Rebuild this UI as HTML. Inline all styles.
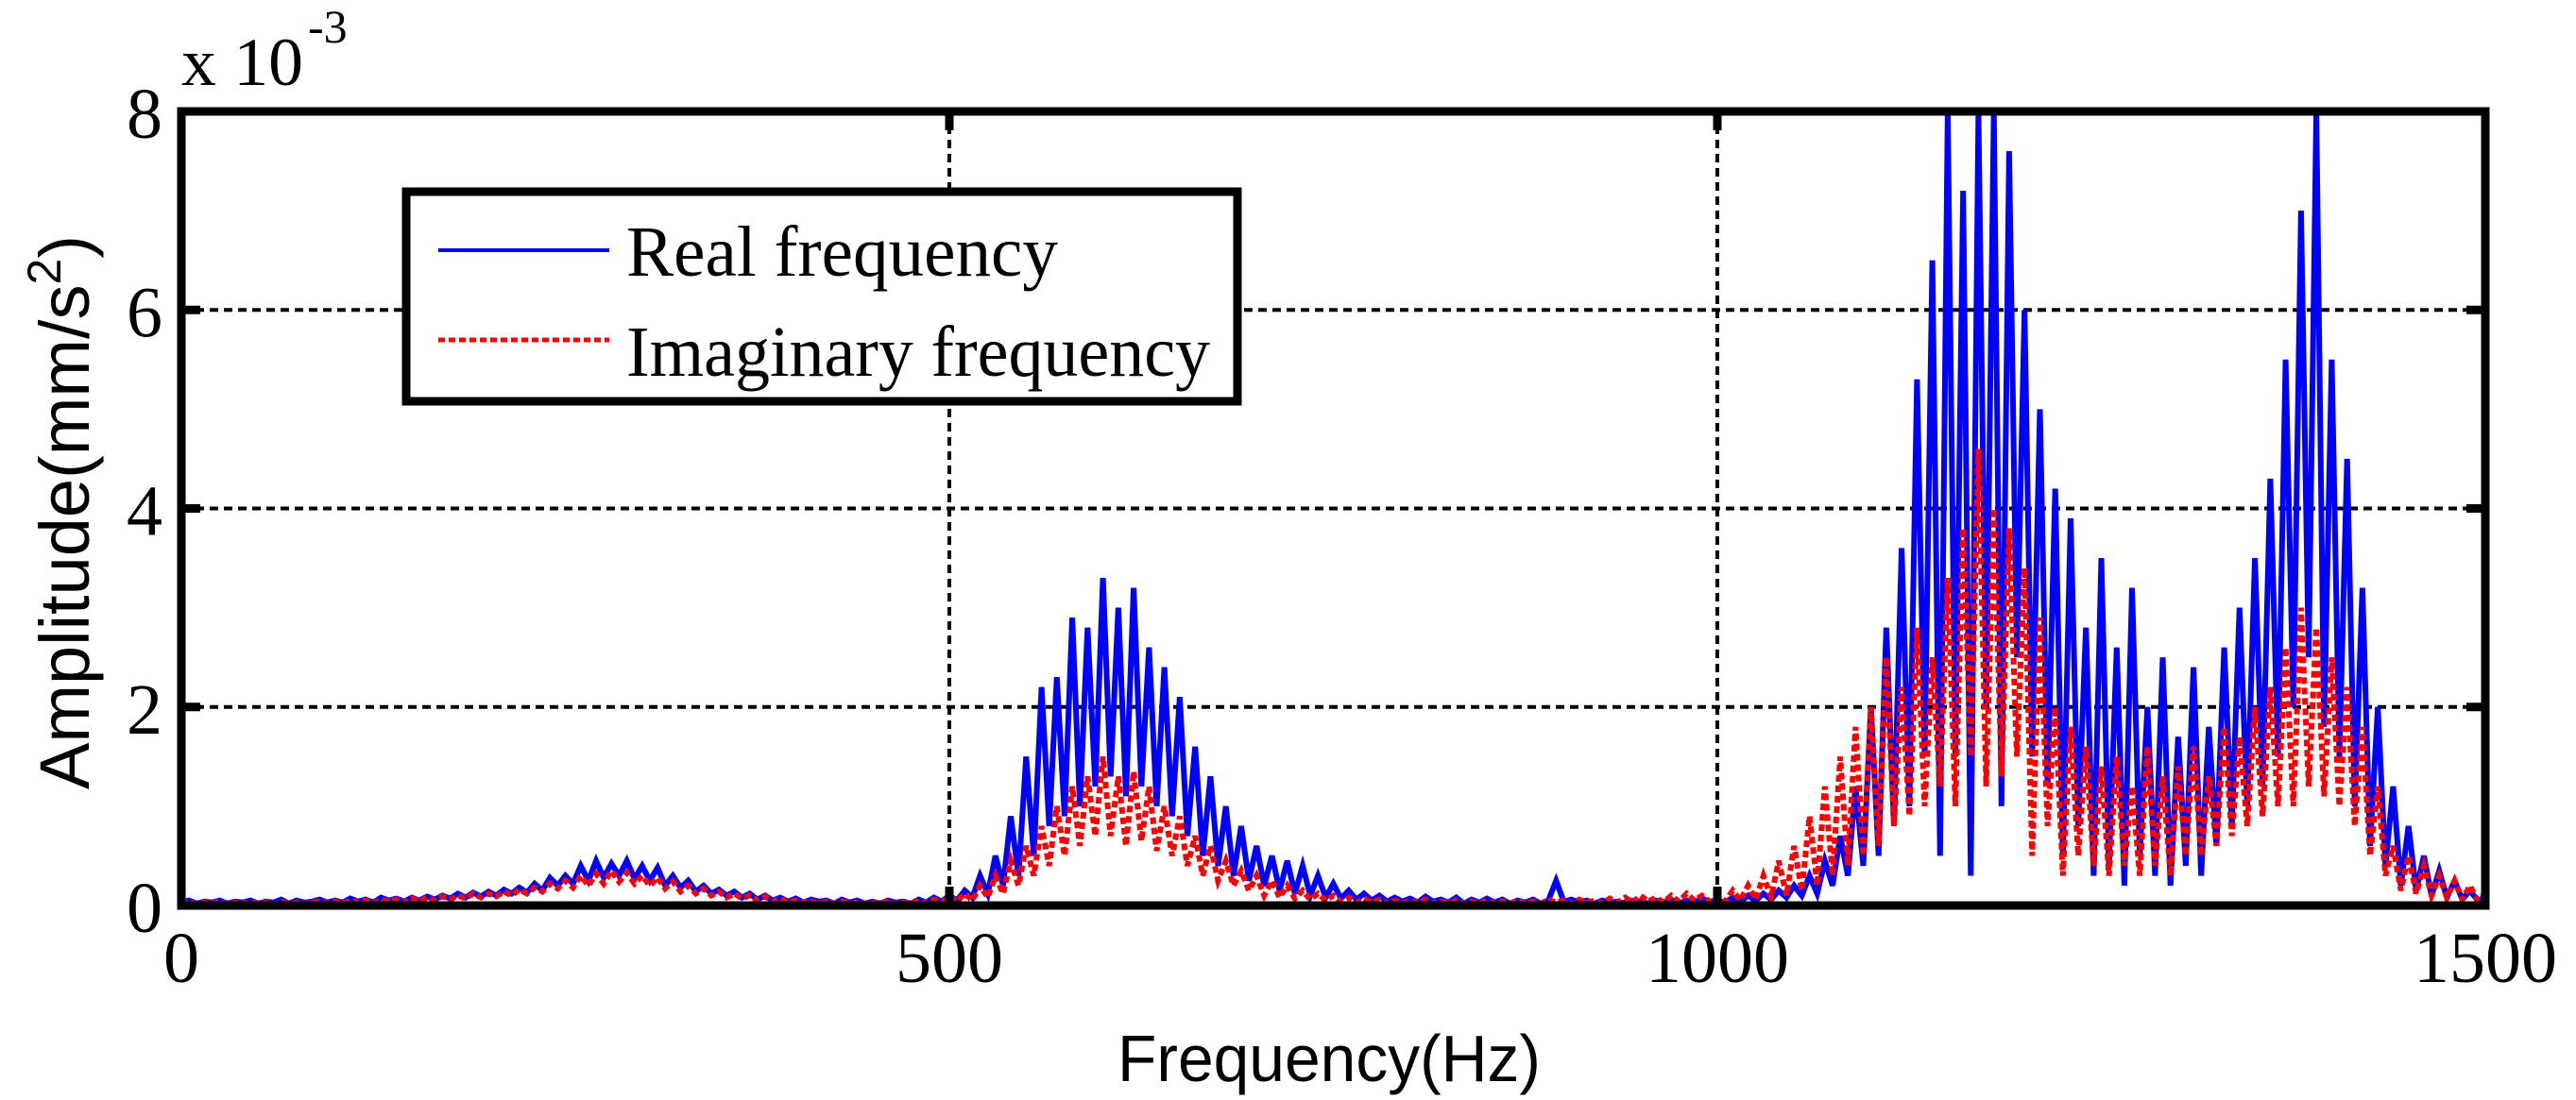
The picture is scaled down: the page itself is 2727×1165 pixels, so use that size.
<!DOCTYPE html>
<html><head><meta charset="utf-8"><style>
html,body{margin:0;padding:0;background:#fff;}
svg{display:block;}
</style></head><body>
<svg id="chart" width="2727" height="1165" viewBox="0 0 2727 1165" xmlns="http://www.w3.org/2000/svg">
<defs><clipPath id="plotclip"><rect x="192" y="118" width="2439" height="841"/></clipPath></defs>
<rect x="0" y="0" width="2727" height="1165" fill="#fff"/>
<g id="grid"></g>
<g id="series" clip-path="url(#plotclip)"></g>
<g id="axes"></g>
<text x="192" y="90" font-family="Liberation Serif, serif" font-size="72" textLength="129" lengthAdjust="spacingAndGlyphs">x 10</text>
<text x="326" y="45" font-family="Liberation Serif, serif" font-size="50">-3</text>
<text transform="translate(94,836) rotate(-90)" font-family="Liberation Sans, sans-serif" font-size="74">Amplitude(mm/s<tspan font-size="50" dy="-30">2</tspan><tspan dy="30">)</tspan></text>
<text x="1183" y="1145" font-family="Liberation Sans, sans-serif" font-size="70" textLength="448" lengthAdjust="spacingAndGlyphs">Frequency(Hz)</text>
<g>
<rect x="430" y="203" width="880" height="222" fill="#fff" stroke="#000" stroke-width="9"/>
<line x1="464" y1="265" x2="645" y2="265" stroke="#0000ff" stroke-width="4"/>
<text x="663" y="292" font-family="Liberation Serif, serif" font-size="76" textLength="457" lengthAdjust="spacingAndGlyphs">Real frequency</text>
<line x1="464" y1="360" x2="645" y2="360" stroke="#ff0000" stroke-width="5" stroke-dasharray="7 4"/>
<text x="663" y="398" font-family="Liberation Serif, serif" font-size="76" textLength="618" lengthAdjust="spacingAndGlyphs">Imaginary frequency</text>
</g>
</svg>
<script>
const xTicks = [0, 500, 1000, 1500];
const yTicks = [0, 2, 4, 6, 8];
const freqStep = 5;
const realValues = [
0.03,0.05,0.02,0.04,0.03,0.05,0.02,0.04,0.03,0.05,
0.02,0.04,0.03,0.06,0.02,0.05,0.03,0.04,0.06,0.03,
0.05,0.03,0.07,0.04,0.06,0.03,0.08,0.05,0.07,0.04,
0.08,0.05,0.09,0.06,0.1,0.07,0.12,0.08,0.13,0.09,
0.14,0.1,0.16,0.12,0.18,0.13,0.22,0.15,0.28,0.2,
0.3,0.22,0.4,0.25,0.45,0.28,0.42,0.3,0.45,0.27,
0.4,0.25,0.38,0.2,0.3,0.18,0.25,0.14,0.2,0.12,
0.16,0.1,0.14,0.08,0.12,0.06,0.1,0.05,0.08,0.04,
0.07,0.03,0.06,0.04,0.05,0.02,0.06,0.03,0.05,0.02,
0.04,0.02,0.05,0.03,0.04,0.02,0.06,0.03,0.08,0.04,
0.1,0.05,0.15,0.08,0.3,0.12,0.5,0.2,0.9,0.3,
1.5,0.5,2.2,0.8,2.3,0.9,2.9,1.0,2.8,1.2,
3.3,1.3,3.0,1.1,3.2,1.2,2.6,1.0,2.4,0.9,
2.1,0.7,1.6,0.5,1.3,0.4,1.0,0.3,0.8,0.25,
0.6,0.2,0.5,0.15,0.45,0.12,0.4,0.1,0.3,0.08,
0.22,0.07,0.15,0.06,0.12,0.05,0.1,0.04,0.08,0.04,
0.07,0.03,0.09,0.04,0.06,0.03,0.08,0.02,0.06,0.03,
0.07,0.03,0.06,0.02,0.05,0.03,0.06,0.02,0.05,0.25,
0.04,0.06,0.03,0.05,0.02,0.05,0.03,0.04,0.02,0.05,
0.04,0.02,0.05,0.03,0.06,0.02,0.05,0.03,0.07,0.04,
0.05,0.03,0.08,0.04,0.1,0.05,0.12,0.06,0.15,0.08,
0.2,0.1,0.3,0.12,0.45,0.2,0.7,0.3,1.2,0.4,
2.0,0.5,2.8,0.8,3.6,1.0,5.3,1.5,6.5,0.5,
8,1.5,7.2,0.3,8,2,8,1.0,7.6,2.5,
6.0,1.5,5.0,1.2,4.2,0.5,3.9,0.8,2.8,0.3,
3.5,0.4,2.6,0.2,3.2,0.5,2.0,0.3,2.5,0.2,
1.7,0.4,2.4,0.3,1.8,0.6,2.6,0.8,3.0,1.0,
3.5,1.2,4.3,1.5,5.5,2.0,7.0,2.5,8,1.8,
5.5,1.5,4.5,1.0,3.2,0.6,2.0,0.4,1.2,0.2,
0.8,0.15,0.5,0.1,0.35,0.08,0.25,0.06,0.15,0.05,
0.08];
const imagValues = [
0.02,0.04,0.01,0.03,0.02,0.04,0.01,0.03,0.02,0.03,
0.02,0.03,0.01,0.04,0.02,0.03,0.02,0.04,0.03,0.02,
0.04,0.02,0.05,0.03,0.05,0.02,0.06,0.04,0.06,0.03,
0.07,0.04,0.08,0.05,0.09,0.06,0.1,0.07,0.12,0.08,
0.12,0.09,0.14,0.1,0.16,0.12,0.18,0.14,0.22,0.17,
0.25,0.18,0.3,0.2,0.32,0.22,0.35,0.24,0.33,0.22,
0.3,0.2,0.28,0.17,0.24,0.14,0.2,0.12,0.17,0.1,
0.14,0.08,0.12,0.07,0.1,0.05,0.09,0.04,0.07,0.03,
0.05,0.03,0.04,0.02,0.04,0.02,0.04,0.02,0.03,0.02,
0.03,0.02,0.04,0.02,0.03,0.02,0.05,0.02,0.06,0.03,
0.08,0.04,0.12,0.05,0.2,0.08,0.3,0.12,0.45,0.2,
0.6,0.3,0.8,0.4,1.0,0.5,1.2,0.6,1.3,0.7,
1.5,0.7,1.3,0.6,1.35,0.65,1.2,0.55,1.0,0.5,
0.9,0.4,0.7,0.3,0.6,0.25,0.45,0.2,0.35,0.15,
0.3,0.1,0.25,0.08,0.2,0.07,0.15,0.06,0.12,0.05,
0.1,0.04,0.08,0.03,0.07,0.03,0.06,0.02,0.05,0.02,
0.05,0.02,0.06,0.02,0.04,0.02,0.05,0.02,0.04,0.02,
0.05,0.02,0.04,0.02,0.05,0.02,0.04,0.02,0.06,0.03,
0.05,0.02,0.06,0.03,0.05,0.02,0.07,0.03,0.08,0.03,
0.1,0.04,0.08,0.03,0.1,0.04,0.12,0.05,0.1,0.04,
0.1,0.04,0.15,0.05,0.2,0.06,0.3,0.08,0.45,0.1,
0.6,0.15,0.9,0.2,1.2,0.3,1.5,0.4,1.8,0.5,
2.0,0.6,2.5,0.8,2.2,0.9,2.8,1.0,2.5,1.2,
3.3,1.0,3.8,1.5,4.6,1.2,4.0,1.3,3.8,1.5,
3.4,0.5,2.9,0.8,2.0,0.3,1.8,0.5,1.6,0.4,
1.4,0.3,1.5,0.4,1.2,0.3,1.6,0.4,1.3,0.3,
1.4,0.5,1.6,0.5,1.3,0.6,1.8,0.7,1.7,0.8,
2.0,0.9,2.2,1.0,2.6,1.0,3.0,1.2,2.8,1.1,
2.5,1.0,2.2,0.8,1.8,0.5,1.2,0.3,0.6,0.15,
0.5,0.12,0.4,0.1,0.3,0.08,0.25,0.06,0.2,0.05,
0.12];

const NS = 'http://www.w3.org/2000/svg';
const X0 = 192, X1 = 2631, YT = 118, YB = 959;
function xs(f){ return X0 + (f - 0) / 1500 * (X1 - X0); }
function ys(v){ return YB - v / 8 * (YB - YT); }
function mk(tag, attrs, parent){
  const e = document.createElementNS(NS, tag);
  for (const k in attrs) e.setAttribute(k, attrs[k]);
  parent.appendChild(e);
  return e;
}
const grid = document.getElementById('grid');
const axes = document.getElementById('axes');
const series = document.getElementById('series');

xTicks.forEach(function(t){
  if (t > 0 && t < 1500) {
    const g = mk('line', {x1: xs(t), x2: xs(t), y1: YT, y2: YB, stroke: '#000', 'stroke-width': 4, 'stroke-dasharray': '9 6'}, grid);
    
    
  }
  const tk1 = mk('line', {x1: xs(t), x2: xs(t), y1: YB, y2: YB - 20, stroke: '#000', 'stroke-width': 9}, axes);
  
  
  const tk2 = mk('line', {x1: xs(t), x2: xs(t), y1: YT, y2: YT + 20, stroke: '#000', 'stroke-width': 9}, axes);
  
  
  const lb = mk('text', {x: xs(t), y: 1040, 'text-anchor': 'middle', 'font-family': 'Liberation Serif, serif', 'font-size': 76}, axes);
  lb.textContent = String(t);
  
  
});
yTicks.forEach(function(t){
  if (t > 0 && t < 8) {
    const g = mk('line', {x1: X0, x2: X1, y1: ys(t), y2: ys(t), stroke: '#000', 'stroke-width': 4, 'stroke-dasharray': '9 6'}, grid);
    
    
  }
  const tk1 = mk('line', {x1: X0, x2: X0 + 20, y1: ys(t), y2: ys(t), stroke: '#000', 'stroke-width': 9}, axes);
  
  
  const tk2 = mk('line', {x1: X1, x2: X1 - 20, y1: ys(t), y2: ys(t), stroke: '#000', 'stroke-width': 9}, axes);
  
  
  const lb = mk('text', {x: 172, y: ys(t) + 28, 'text-anchor': 'end', 'font-family': 'Liberation Serif, serif', 'font-size': 76}, axes);
  lb.textContent = String(t);
  
  
});

function pts(vals){
  return vals.map(function(v, i){ return xs(i * freqStep).toFixed(1) + ',' + ys(v).toFixed(1); }).join(' ');
}
const real = mk('polyline', {points: pts(realValues), fill: 'none', stroke: '#0000ff', 'stroke-width': 6, 'stroke-linejoin': 'miter'}, series);


const imag = mk('polyline', {points: pts(imagValues), fill: 'none', stroke: '#ff0000', 'stroke-width': 6, 'stroke-dasharray': '7 4'}, series);



const frame = mk('rect', {x: X0, y: YT, width: X1 - X0, height: YB - YT, fill: 'none', stroke: '#000', 'stroke-width': 9}, axes);


</script>
</body></html>
